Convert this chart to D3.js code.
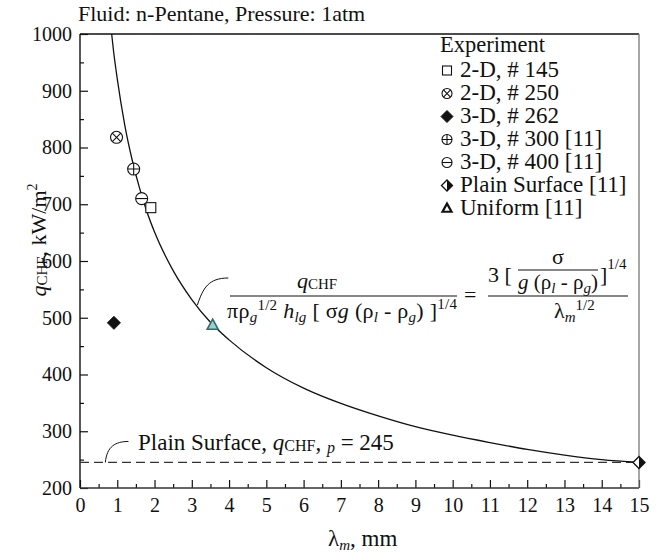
<!DOCTYPE html>
<html><head><meta charset="utf-8">
<script src="https://cdn.jsdelivr.net/npm/d3@7"></script>
<style>
body{margin:0;background:#fff}
svg{display:block}
text{font-family:"Liberation Serif","Times New Roman",serif;fill:#111}
</style>
</head><body>
<svg id="chart" width="664" height="552"></svg>
<script>
// ---- data ----
const xTicks = [0,1,2,3,4,5,6,7,8,9,10,11,12,13,14,15];
const yTicks = [200,300,400,500,600,700,800,900,1000];

// correlation curve q_CHF vs lambda_m
const curveLambda = [0.85, 0.9, 1.0, 1.2, 1.4, 1.6, 1.8, 2.0, 2.5, 3.0, 3.5, 4.0, 5.0, 6.0, 7.0, 8.0, 9.0, 10.0, 11.0, 12.0, 13.0, 14.0, 15.0];
const curveQ      = [1000, 970, 921, 840, 778, 728, 686, 651, 583, 532, 492, 461, 412, 376, 349, 327, 308, 293, 280, 268, 258, 250, 245];

// experiments
const expLabels = ["2-D, # 145", "2-D, # 250", "3-D, # 262", "3-D, # 300 [11]", "3-D, # 400 [11]", "Plain Surface [11]", "Uniform [11]"];
const expSymbols = ["square", "circleX", "diamond", "circlePlus", "circleMinus", "halfDiamond", "triangle"];
const expLambda = [1.90, 0.98, 0.91, 1.44, 1.655, 15.0, 3.56];
const expQ      = [694, 818, 491, 762, 710, 245, 487];

const plainSurfaceQ = 245;

// ---- layout ----
const svg = d3.select("#chart");
const x = d3.scaleLinear().domain([0, 15]).range([80, 639]);
const y = d3.scaleLinear().domain([200, 1000]).range([488, 34]);
const FONT = '"Liberation Serif","Times New Roman",serif';

// rich text helper: parts = [{t, i, fs, sh}]
function rich(sel, px, py, parts, opts = {}) {
  const t = sel.append("text").attr("x", px).attr("y", py)
    .attr("font-size", opts.fs || 21)
    .attr("text-anchor", opts.anchor || "start");
  let cur = 0;
  parts.forEach(p => {
    const sh = p.sh || 0;
    const ts = t.append("tspan").text(p.t).attr("dy", sh - cur);
    cur = sh;
    if (p.i) ts.attr("font-style", "italic");
    if (p.fs) ts.attr("font-size", p.fs);
  });
  if (opts.len) t.attr("textLength", opts.len).attr("lengthAdjust", "spacing");
  return t;
}

// ---- axes ----
const xMajor = d3.axisBottom(x).tickValues(xTicks).tickSize(-8).tickPadding(10).tickFormat(d3.format("d"));
const xMinor = d3.axisBottom(x).tickValues(d3.range(0.5, 15, 1)).tickSize(-4).tickFormat("");
const yMajor = d3.axisLeft(y).tickValues(yTicks).tickSize(-8).tickPadding(8).tickFormat(d3.format("d"));
const yMinor = d3.axisLeft(y).tickValues(d3.range(250, 1000, 100)).tickSize(-4).tickFormat("");

function styleAxis(g) {
  g.select(".domain").remove();
  g.selectAll("line").attr("stroke", "#111").attr("stroke-width", 1.2);
  g.selectAll("text").attr("font-family", FONT).attr("font-size", 21).attr("fill", "#111");
}
svg.append("g").attr("transform", "translate(0,488)").call(xMajor).call(styleAxis)
  .selectAll("text").attr("font-size", 20);
svg.append("g").attr("transform", "translate(0,488)").call(xMinor).call(styleAxis);
svg.append("g").attr("transform", "translate(80,0)").call(yMajor).call(styleAxis)
  .selectAll("text").attr("font-size", 20);
svg.append("g").attr("transform", "translate(80,0)").call(yMinor).call(styleAxis);

// frame
const frame = svg.append("g").attr("fill", "none");
frame.append("line").attr("x1", x(0)).attr("x2", x(15)).attr("y1", y(1000)).attr("y2", y(1000)).attr("stroke", "#111").attr("stroke-width", 1.3);
frame.append("line").attr("x1", x(0)).attr("x2", x(0)).attr("y1", y(1000)).attr("y2", y(200)).attr("stroke", "#111").attr("stroke-width", 1.4);
frame.append("line").attr("x1", x(0)).attr("x2", x(15)).attr("y1", y(200)).attr("y2", y(200)).attr("stroke", "#333").attr("stroke-width", 1.4);
frame.append("line").attr("x1", x(15)).attr("x2", x(15)).attr("y1", y(1000)).attr("y2", y(200)).attr("stroke", "#777").attr("stroke-width", 1.3);

// ---- plain surface dashed line ----
svg.append("line")
  .attr("x1", x(0)).attr("x2", x(15))
  .attr("y1", y(plainSurfaceQ)).attr("y2", y(plainSurfaceQ))
  .attr("stroke", "#333").attr("stroke-width", 1.2)
  .attr("stroke-dasharray", "9,5");

// ---- curve ----
svg.append("clipPath").attr("id", "plotClip").append("rect")
  .attr("x", x(0)).attr("y", y(1000)).attr("width", x(15) - x(0)).attr("height", y(200) - y(1000));
const curvePts = curveLambda.map((l, i) => [l, curveQ[i]]);
svg.append("path").datum(curvePts)
  .attr("clip-path", "url(#plotClip)")
  .attr("fill", "none").attr("stroke", "#111").attr("stroke-width", 1.3)
  .attr("d", d3.line().x(d => x(d[0])).y(d => y(d[1])).curve(d3.curveMonotoneX));

// ---- symbols ----
function drawSymbol(g, type, cx, cy, s) {
  const sw = 1.1;
  if (type === "square") {
    g.append("rect").attr("x", cx - s / 2).attr("y", cy - s / 2).attr("width", s).attr("height", s)
      .attr("fill", "#fff").attr("stroke", "#111").attr("stroke-width", sw);
  } else if (type.startsWith("circle")) {
    const r = s / 2;
    g.append("circle").attr("cx", cx).attr("cy", cy).attr("r", r)
      .attr("fill", "#fff").attr("stroke", "#111").attr("stroke-width", sw);
    const k = r * 0.7071;
    if (type === "circleX") {
      g.append("path").attr("d", `M${cx - k},${cy - k}L${cx + k},${cy + k}M${cx - k},${cy + k}L${cx + k},${cy - k}`)
        .attr("stroke", "#111").attr("stroke-width", sw);
    } else if (type === "circlePlus") {
      g.append("path").attr("d", `M${cx - r},${cy}L${cx + r},${cy}M${cx},${cy - r}L${cx},${cy + r}`)
        .attr("stroke", "#111").attr("stroke-width", sw);
    } else {
      g.append("path").attr("d", `M${cx - r},${cy}L${cx + r},${cy}`)
        .attr("stroke", "#111").attr("stroke-width", sw);
    }
  } else if (type === "diamond") {
    const h = s / 2;
    g.append("path").attr("d", `M${cx},${cy - h}L${cx + h},${cy}L${cx},${cy + h}L${cx - h},${cy}Z`)
      .attr("fill", "#111").attr("stroke", "#111").attr("stroke-width", 1);
  } else if (type === "halfDiamond") {
    const h = s / 2;
    g.append("path").attr("d", `M${cx},${cy - h}L${cx + h},${cy}L${cx},${cy + h}L${cx - h},${cy}Z`)
      .attr("fill", "#fff").attr("stroke", "#111").attr("stroke-width", 1.3);
    g.append("path").attr("d", `M${cx},${cy - h}L${cx + h},${cy}L${cx},${cy + h}Z`)
      .attr("fill", "#111");
  } else if (type === "triangle") {
    const h = s * 0.9;
    g.append("path").attr("d", `M${cx},${cy - h * 0.6}L${cx + s / 2},${cy + h * 0.4}L${cx - s / 2},${cy + h * 0.4}Z`)
      .attr("fill", "#fff").attr("stroke", "#111").attr("stroke-width", 2.2).attr("stroke-linejoin", "miter");
  }
}

// plotted experiments
const pts = svg.append("g");
expLambda.forEach((l, i) => {
  const type = expSymbols[i];
  const size = { square: 10, circleX: 12, circlePlus: 12, circleMinus: 12, diamond: 13, halfDiamond: 12, triangle: 11 }[type];
  if (type === "triangle") {
    const cx = x(l), cy = y(expQ[i]), s = size;
    pts.append("path")
      .attr("d", `M${cx},${cy - s * 0.55}L${cx + s / 2},${cy + s * 0.38}L${cx - s / 2},${cy + s * 0.38}Z`)
      .attr("fill", "#9ccfcd").attr("stroke", "#2f6e6c").attr("stroke-width", 1.6);
  } else {
    drawSymbol(pts, type, x(l), y(expQ[i]), size);
  }
});

// ---- legend ----
const leg = svg.append("g");
leg.append("text").attr("x", 440).attr("y", 52).attr("font-size", 22.5).text("Experiment");
expLabels.forEach((lab, i) => {
  const by = 77 + i * 23;
  const type = expSymbols[i];
  const size = { square: 9, circleX: 10, circlePlus: 10, circleMinus: 10, diamond: 12, halfDiamond: 11, triangle: 9 }[type];
  drawSymbol(leg, type, 447, by - 6.5, size);
  leg.append("text").attr("x", 460).attr("y", by).attr("font-size", 23).text(lab);
});

// ---- title ----
svg.append("text").attr("x", 78).attr("y", 21).attr("font-size", 22).text("Fluid: n-Pentane, Pressure: 1atm");

// ---- axis titles ----
const yl = svg.append("g").attr("transform", "translate(46,240) rotate(-90)");
rich(yl, 0, 0, [
  { t: "q", i: true }, { t: "CHF", fs: 15, sh: 1 }, { t: ", kW/m" }, { t: "2", fs: 14, sh: -9 }
], { fs: 22, anchor: "middle" });

rich(svg, 328, 546, [
  { t: "λ" }, { t: "m", i: true, fs: 15, sh: 4 }, { t: ", mm" }
], { fs: 23 });

// ---- plain surface annotation ----
svg.append("path").attr("d", `M${x(0.68)},${y(plainSurfaceQ)} C${x(0.72)},${y(plainSurfaceQ) - 16} ${x(0.95)},${y(plainSurfaceQ) - 21} ${x(1.3)},${y(plainSurfaceQ) - 21}`)
  .attr("fill", "none").attr("stroke", "#111").attr("stroke-width", 1);
rich(svg, 138, 450, [
  { t: "Plain Surface, " }, { t: "q", i: true }, { t: "CHF", fs: 16, sh: 1 }, { t: ", ", sh: 0 },
  { t: "p", i: true, fs: 16, sh: 3 }, { t: " = 245", sh: 0 }
], { fs: 23 });

// ---- correlation equation ----
const eq = svg.append("g");
svg.append("path").attr("d", `M${x(3.15)},305 C${x(3.3)},288 ${x(3.45)},278 ${x(3.98)},278`)
  .attr("fill", "none").attr("stroke", "#111").attr("stroke-width", 1);
rich(eq, 317, 288, [{ t: "q", i: true }, { t: "CHF", fs: 15, sh: 1 }], { fs: 22, anchor: "middle" });
eq.append("line").attr("x1", 230).attr("x2", 457).attr("y1", 296).attr("y2", 296).attr("stroke", "#111").attr("stroke-width", 1.1);
rich(eq, 227, 318, [
  { t: "πρ" }, { t: "g", i: true, fs: 15, sh: 4 }, { t: "1/2", fs: 15, sh: -8 },
  { t: " " }, { t: "h", i: true }, { t: "lg", i: true, fs: 15, sh: 4 },
  { t: " [ σ" }, { t: "g", i: true }, { t: " (ρ" }, { t: "l", i: true, fs: 15, sh: 4 },
  { t: " - ρ" }, { t: "g", i: true, fs: 15, sh: 4 }, { t: ") ]" }, { t: "1/4", fs: 15, sh: -9 }
], { fs: 22, len: 230 });
eq.append("text").attr("x", 464).attr("y", 302).attr("font-size", 22).text("=");

rich(eq, 488, 282, [{ t: "3 [" }], { fs: 22 });
eq.append("text").attr("x", 558).attr("y", 264).attr("font-size", 22).attr("text-anchor", "middle").text("σ");
eq.append("line").attr("x1", 518).attr("x2", 598).attr("y1", 270).attr("y2", 270).attr("stroke", "#111").attr("stroke-width", 1.1);
rich(eq, 558, 289, [
  { t: "g", i: true }, { t: " (ρ" }, { t: "l", i: true, fs: 15, sh: 4 }, { t: " - ρ" }, { t: "g", i: true, fs: 15, sh: 4 }, { t: ")" }
], { fs: 21, anchor: "middle" });
rich(eq, 600, 282, [{ t: "]" }, { t: "1/4", fs: 15, sh: -13 }], { fs: 22 });
eq.append("line").attr("x1", 488).attr("x2", 628).attr("y1", 296).attr("y2", 296).attr("stroke", "#111").attr("stroke-width", 1.1);
rich(eq, 554, 318, [
  { t: "λ" }, { t: "m", i: true, fs: 15, sh: 4 }, { t: "1/2", fs: 15, sh: -8 }
], { fs: 22 });
</script>
</body></html>
